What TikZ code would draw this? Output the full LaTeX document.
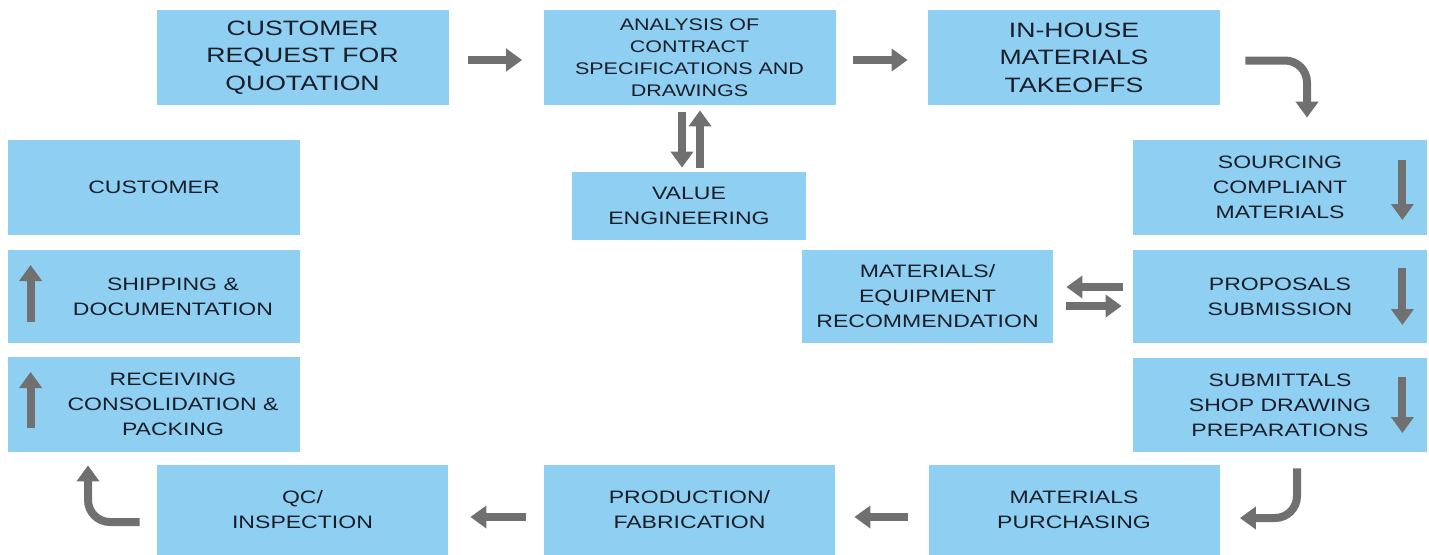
\documentclass[tikz,border=0pt]{standalone}
\usepackage{fontspec}
\setmainfont[FakeStretch=1.28]{Liberation Sans}
\usetikzlibrary{arrows.meta}
\definecolor{boxblue}{RGB}{142,207,242}
\definecolor{arrgray}{RGB}{112,112,112}
\definecolor{txtdark}{RGB}{26,30,40}
\tikzset{
  box/.style={fill=boxblue,inner sep=0pt,minimum width=146pt,minimum height=47pt,
    align=center,text=txtdark,font=\fontsize{9}{12.5}\selectfont},
  bigbox/.style={box,minimum height=47.5pt,font=\fontsize{10.4}{13.75}\selectfont},
  lowbox/.style={box,minimum width=145.5pt,minimum height=45pt},
  txt/.style={inner sep=0pt,align=center,text=txtdark,font=\fontsize{9}{12.5}\selectfont},
  arr/.style={draw=arrgray,line width=4pt,-{Triangle[width=11pt,length=8pt]}},
}
\begin{document}
\begin{tikzpicture}[x=0.5pt,y=-0.5pt]
\useasboundingbox (0,0) rectangle (1429,554);
% top row
\node[bigbox] (req) at (302.5,57.5) {CUSTOMER\\REQUEST FOR\\QUOTATION};
\node[bigbox,font=\fontsize{8.4}{11}\selectfont] (ana) at (689.5,57.5) {ANALYSIS OF\\CONTRACT\\SPECIFICATIONS AND\\DRAWINGS};
\node[bigbox] (inh) at (1074,57.5) {IN-HOUSE\\MATERIALS\\TAKEOFFS};
\node[box,minimum width=117pt,minimum height=34pt] (ve) at (689,206) {VALUE\\ENGINEERING};
% right column
\node[box,minimum width=147pt,minimum height=47.5pt] (src) at (1280,187.5) {SOURCING\\COMPLIANT\\MATERIALS};
\node[box,minimum width=147pt,minimum height=46.5pt] (prop) at (1280,296.5) {PROPOSALS\\SUBMISSION};
\node[box,minimum width=147pt] (subm) at (1280,405) {SUBMITTALS\\SHOP DRAWING\\PREPARATIONS};
\node[box,minimum width=125.5pt,minimum height=46.5pt] (meq) at (927.5,296.5) {MATERIALS/\\EQUIPMENT\\RECOMMENDATION};
% left column
\node[box,minimum height=47.5pt] (cust) at (154,187.5) {CUSTOMER};
\node[box,minimum height=46.5pt] (ship) at (154,296.5) {};
\node[txt] (shiptxt) at ([xshift=9.5pt]ship.center) {SHIPPING \&\\DOCUMENTATION};
\node[box,minimum height=47.5pt] (recv) at (154,404.5) {};
\node[txt] (recvtxt) at ([xshift=9.5pt]recv.center) {RECEIVING\\CONSOLIDATION \&\\PACKING};
% bottom row
\node[lowbox] (qc) at (302.5,510) {QC/\\INSPECTION};
\node[lowbox] (prod) at (689.5,510) {PRODUCTION/\\FABRICATION};
\node[lowbox] (mpur) at (1074,510) {MATERIALS\\PURCHASING};

% flow arrows
\draw[arr] ([shift={(19,2.5)}]req.east) -- ([shift={(-21,2.5)}]ana.west);
\draw[arr] ([shift={(17,2.5)}]ana.east) -- ([shift={(-20,2.5)}]inh.west);
\draw[arr,rounded corners=11pt] ([shift={(25,3)}]inh.east) -| ([shift={(27,-22)}]src.north);
\draw[arr] ([shift={(-7.5,7)}]ana.south) -- ([shift={(-7,-4)}]ve.north);
\draw[arr] ([shift={(11,-4)}]ve.north) -- ([shift={(10.5,5)}]ana.south);
\draw[arr] ([shift={(-10,-9.5)}]prop.west) -- ([shift={(13,-9.5)}]meq.east);
\draw[arr] ([shift={(13,9.5)}]meq.east) -- ([shift={(-11,9.5)}]prop.west);
\draw[arr,rounded corners=11pt] ([shift={(17,16)}]subm.south) |- ([shift={(20,8)}]mpur.east);
\draw[arr] ([shift={(-20,7)}]mpur.west) -- ([shift={(19,7)}]prod.east);
\draw[arr] ([shift={(-18,7)}]prod.west) -- ([shift={(22,7)}]qc.east);
\draw[arr,rounded corners=11pt] ([shift={(-17,12)}]qc.west) -| ([shift={(-66,13)}]recv.south);
% arrows inside the boxes
\draw[arr] ([shift={(-25,-27.5)}]src.east) -- ([shift={(-25,32.5)}]src.east);
\draw[arr] ([shift={(-25,-28.5)}]prop.east) -- ([shift={(-25,28.5)}]prop.east);
\draw[arr] ([shift={(-25,-28)}]subm.east) -- ([shift={(-25,28)}]subm.east);
\draw[arr] ([shift={(23,25.5)}]ship.west) -- ([shift={(23,-31.5)}]ship.west);
\draw[arr] ([shift={(23,23.5)}]recv.west) -- ([shift={(23,-32.5)}]recv.west);
\end{tikzpicture}
\end{document}
